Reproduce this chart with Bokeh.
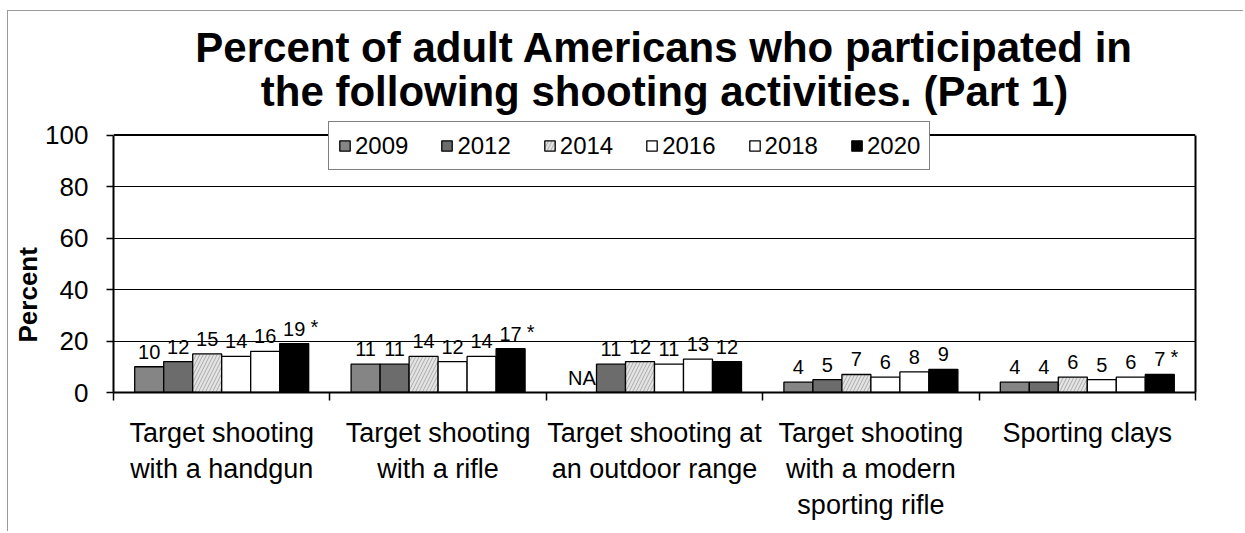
import math
from bokeh.plotting import figure
from bokeh.models import (Range1d, FixedTicker, ColumnDataSource, Legend, LegendItem,
                          Label, Span, LinearAxis, Title)
from bokeh.transform import dodge
from bokeh.core.properties import value
from bokeh.embed import file_html
from bokeh.resources import INLINE

# ---------------- data ----------------
categories = ["Target shooting\nwith a handgun",
              "Target shooting\nwith a rifle",
              "Target shooting at\nan outdoor range",
              "Target shooting\nwith a modern\nsporting rifle",
              "Sporting clays"]
years = ["2009", "2012", "2014", "2016", "2018", "2020"]
v2009 = [10, 11, None, 4, 4]
v2012 = [12, 11, 11, 5, 4]
v2014 = [15, 14, 12, 7, 6]
v2016 = [14, 12, 11, 6, 5]
v2018 = [16, 14, 13, 8, 6]
v2020 = [19, 17, 12, 9, 7]
sig2020 = [True, True, False, False, True]   # "*" marks
y_ticks = [0, 20, 40, 60, 80, 100]
title_lines = ["Percent of adult Americans who participated in",
               "the following shooting activities. (Part 1)"]
y_label = "Percent"

series = [v2009, v2012, v2014, v2016, v2018, v2020]
fills = ["#858585", "#6c6c6c", "#e4e4e4", "#ffffff", "#ffffff", "#000000"]
hatches = [" ", " ", "/", " ", " ", " "]

FONT = "Liberation Sans"
xc = list(range(1, len(categories) + 1))
BW = 0.134
Y_TOP = 144.47   # plot frame extends above 100 to hold title & legend

p = figure(width=1236, height=521,
           x_range=Range1d(0.5, 5.5), y_range=Range1d(0, Y_TOP),
           output_backend="svg", toolbar_location=None,
           min_border_left=105, min_border_right=49,
           min_border_top=9, min_border_bottom=140)

p.background_fill_color = "white"
p.border_fill_color = "white"
p.outline_line_color = None
p.styles = {"margin-left": "7px", "margin-top": "10px",
            "border-left": "1px solid #9a9a9a", "border-top": "1px solid #9a9a9a"}

# grid
p.xgrid.visible = False
p.ygrid.ticker = FixedTicker(ticks=y_ticks[1:-1])
p.ygrid.grid_line_color = "black"
p.ygrid.grid_line_width = 1
p.add_layout(Span(location=y_ticks[-1], dimension="width", line_color="black", line_width=2))

# y axis
ya = p.yaxis[0]
ya.ticker = FixedTicker(ticks=y_ticks)
ya.bounds = (y_ticks[0], y_ticks[-1])
ya.axis_line_width = 2
ya.axis_line_color = "black"
ya.major_tick_out = 7
ya.major_tick_in = 0
ya.major_tick_line_width = 1.5
ya.minor_tick_line_color = None
ya.major_label_standoff = 18
ya.major_label_text_font = FONT
ya.major_label_text_font_size = "26px"
ya.major_label_text_color = "black"

# right border of plot area (axis without ticks)
ra = LinearAxis(bounds=(y_ticks[0], y_ticks[-1]), ticker=FixedTicker(ticks=[]),
                axis_line_width=2, axis_line_color="black",
                major_tick_out=0, major_tick_in=0, minor_tick_out=0, minor_tick_in=0,
                major_label_standoff=0)
p.add_layout(ra, "right")

# x axis
xa = p.xaxis[0]
xa.ticker = FixedTicker(ticks=xc, minor_ticks=[c - 0.5 for c in xc] + [xc[-1] + 0.5])
xa.major_label_overrides = {c: lab for c, lab in zip(xc, categories)}
xa.axis_line_width = 2
xa.axis_line_color = "black"
xa.major_tick_line_color = None
xa.major_tick_out = 0
xa.major_tick_in = 0
xa.minor_tick_out = 8
xa.minor_tick_in = 0
xa.minor_tick_line_color = "black"
xa.minor_tick_line_width = 1.5
xa.major_label_standoff = 17
xa.major_label_text_font = FONT
xa.major_label_text_font_size = "27px"
xa.major_label_text_color = "black"
xa.major_label_text_line_height = 1.2

# bars + labels
items = []
for i, (yr, vals) in enumerate(zip(years, series)):
    off = (i - 2.5) * BW
    tops = [float("nan") if v is None else v for v in vals]
    labels = ["NA" if v is None else str(v) for v in vals]
    ly = [0 if v is None else v for v in vals]
    src = ColumnDataSource(dict(x=xc, top=tops, lab=labels, ly=ly))
    r = p.vbar(x=dodge("x", off, range=p.x_range), top="top", width=BW, bottom=0,
               source=src, fill_color=fills[i], line_color="black", line_width=1.3,
               hatch_pattern=hatches[i], hatch_color="#9c9c9c", hatch_scale=7,
               hatch_weight=0.8)
    p.text(x=dodge("x", off, range=p.x_range), y="ly", text="lab", source=src,
           text_font=value(FONT), text_font_size="20px", text_color="black",
           text_align="center", text_baseline="alphabetic", y_offset=-15)
    items.append(LegendItem(label=yr, renderers=[r]))

# significance stars on 2020
off20 = 2.5 * BW
sx = [c for c, s in zip(xc, sig2020) if s]
sy = [v for v, s in zip(v2020, sig2020) if s]
sxo = [5 + 5.6 * len(str(v)) for v, s in zip(v2020, sig2020) if s]
ssrc = ColumnDataSource(dict(x=sx, y=sy, xo=sxo, t=["*"] * len(sx)))
p.text(x=dodge("x", off20, range=p.x_range), y="y", text="t", source=ssrc,
       x_offset="xo", y_offset=-17, text_font=value(FONT), text_font_size="20px",
       text_color="black", text_align="left", text_baseline="alphabetic")

legend = Legend(items=items, orientation="horizontal", location=(215, 222),
                border_line_color="black", border_line_width=1,
                background_fill_color="white", background_fill_alpha=1,
                label_text_font=FONT, label_text_font_size="24px",
                label_text_color="black", label_height=29,
                glyph_width=13, glyph_height=13, label_standoff=4,
                spacing=32, padding=9, margin=0)
p.add_layout(legend)

# title (two lines) inside the extended frame
for txt, yy in zip(title_lines, [134.0, 116.9]):
    p.add_layout(Label(x=3.046, y=yy, text=txt, text_font=FONT, text_font_size="42px",
                       text_font_style="bold", text_color="black",
                       text_align="center", text_baseline="alphabetic"))

# y label as a side title, positioned from the bottom of the frame
p.add_layout(Title(text=y_label, align="left", offset=50, standoff=0,
                   text_font=FONT, text_font_size="26px", text_font_style="bold",
                   text_color="black"), "left")

open("out.html", "w").write(file_html(p, INLINE))
